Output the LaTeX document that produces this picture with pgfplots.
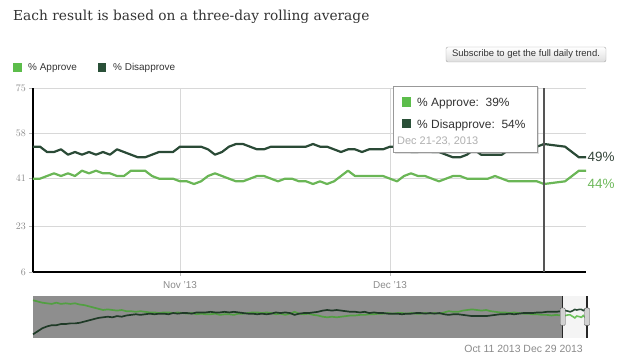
\documentclass[border=0pt]{standalone}
\usepackage{pgfplots}
\pgfplotsset{compat=1.18}
\usepackage{pgfplotstable}
\usepackage{fontspec}
\setmainfont{Liberation Sans}
\newfontfamily\titlefont{DejaVu Serif}
\usetikzlibrary{shadows}
\definecolor{titlec}{HTML}{333333}
\definecolor{txt}{HTML}{333333}
\definecolor{tickc}{HTML}{8A8A8A}
\definecolor{gridc}{HTML}{D8D8D8}
\definecolor{appr}{HTML}{6AB656}
\definecolor{apprsq}{HTML}{5CBD4B}
\definecolor{disa}{HTML}{2A4A36}
\definecolor{disasq}{HTML}{2A5038}
\definecolor{lab49}{HTML}{34453A}
\definecolor{lab44}{HTML}{6DB85A}
\definecolor{navbg}{HTML}{8E8E8E}
\definecolor{navA}{HTML}{529F42}
\definecolor{navD}{HTML}{1F3A27}
\definecolor{winbg}{HTML}{F4F4F4}
\definecolor{winA}{HTML}{6CC25A}
\definecolor{crossc}{HTML}{555555}
\definecolor{datec}{HTML}{B0B0B0}

\pgfplotstableread{
d A D
0 41 53
1 41 53
2 42 51
3 43 51
4 42 52
5 43 50
6 42 51
7 44 50
8 43 51
9 44 50
10 43 51
11 43 50
12 42 52
13 42 51
14 44 50
15 44 49
16 44 49
17 42 50
18 41 51
19 41 51
20 41 51
21 40 53
22 40 53
23 39 53
24 40 53
25 42 52
26 43 50
27 42 51
28 41 53
29 40 54
30 40 54
31 41 53
32 42 52
33 42 52
34 41 53
35 40 53
36 41 53
37 41 53
38 40 53
39 40 53
40 39 54
41 40 53
42 39 53
43 40 52
44 42 51
45 44 52
46 42 52
47 42 51
48 42 52
49 42 52
50 42 52
51 41 53
52 40 53
53 42 53
54 43 51
55 42 51
56 42 52
57 41 51
58 40 51
59 41 50
60 42 49
61 42 49
62 41 50
63 41 52
64 41 50
65 41 50
66 42 50
67 41 50
68 40 52
69 40 53
70 40 53
71 40 53
72 40 53
73 39 54
76 40 53
77 42 51
78 44 49
79 44 49
}\maindata

\pgfplotstableread{
m A D
0 68 12
0.5 66 17
1 64 22
1.5 63 25
2 62 27
2.5 64 27
3 62 29
3.5 63 29
4 62 30
4.5 63 30
5 61 31
5.5 60 33
6 58 35
6.5 56 37
7 54 39
7.5 52 40
8 53 41
8.5 52 40
9 51 42
9.5 52 41
10 50 43
10.5 50 44
11 49 45
11.5 50 44
12 49 45
12.5 48 46
13 48 45
13.5 47 46
14 48 46
14.5 48 45
15 47 47
15.5 48 46
16 47 47
16.5 46 47
17 47 46
17.5 45 48
18 46 48
18.5 45 48
19 45 49
19.5 46 48
20 44 48
20.5 45 49
21 45 48
21.5 44 49
22 46 48
22.5 46 47
23 47 46
23.5 48 46
24 48 45
24.5 47 46
25 48 45
25.5 47 46
26 45 48
26.5 46 47
27 44 48
27.5 46 47
28 49 44
28.5 46 46
29 45 47
29.5 46 47
30 44 48
30.5 43 49
31 41 51
31.5 40 52
32 41 51
32.5 40 52
33 41 51
33.5 42 50
34 43 49
34.5 43 49
35 44 48
35.5 44 49
36 45 47
36.5 45 48
37 46 47
37.5 46 47
38 47 46
38.5 46 46
39 47 46
39.5 47 45
40 46 46
40.5 47 46
41 46 47
41.5 46 47
42 47 46
42.5 46 47
43 47 46
43.5 46 47
44 48 45
44.5 50 44
45 49 45
45.5 49 45
46 51 44
46.5 52 43
47 53 42
47.5 52 42
48 51 42
48.5 52 42
49 50 43
49.5 49 44
50 48 45
50.5 48 45
51 47 46
51.5 48 45
52 47 46
52.5 46 47
53 46 47
53.5 45 47
54 45 48
54.5 44 48
55 44 49
55.5 43 49
56 44 49
56.5 43 50
56.7 41 53
}\navdata

\pgfplotstableread{
m A D
56.7 41 53
57.0 43 51
57.3 44 50
57.5 44 49
57.8 41 51
58.0 39 53
58.2 42 52
58.5 41 53
58.7 40 53
58.9 43 51
59.1 40 53
59.3 44 49
}\windata

\begin{document}
\begin{tikzpicture}
\path[use as bounding box] (0bp,0bp) rectangle (628bp,355bp);

% title
\node[anchor=base west, inner sep=0, font=\titlefont\fontsize{13.8}{17}\selectfont, text=titlec] at (13bp,334bp) {Each result is based on a three-day rolling average};

% legend
\fill[apprsq] (13bp,283bp) rectangle (21.5bp,291.5bp);
\node[anchor=base west, inner sep=0, font=\fontsize{10}{12}\selectfont, text=txt] at (28bp,284bp) {\% Approve};
\fill[disasq] (97.5bp,283bp) rectangle (106bp,291.5bp);
\node[anchor=base west, inner sep=0, font=\fontsize{10}{12}\selectfont, text=txt] at (113bp,284bp) {\% Disapprove};

% button
\shade[top color=white, bottom color=black!13, rounded corners=2bp] (446bp,293bp) rectangle (606bp,308bp);
\draw[black!35, rounded corners=2bp] (446bp,293bp) rectangle (606bp,308bp);
\node[inner sep=0, font=\fontsize{9.5}{11}\selectfont, text=txt] at (526bp,300.5bp) {Subscribe to get the full daily trend.};

% main chart
\begin{axis}[
  at={(33bp,83bp)}, anchor=south west, scale only axis,
  width=553bp, height=184bp,
  xmin=0, xmax=79, ymin=6, ymax=75,
  axis x line*=bottom, axis y line*=left,
  axis line style={-, black, line width=1.3bp},
  xtick={21,51}, xticklabels={Nov '13, Dec '13},
  ytick={6,23,41,58,75},
  grid=major, major grid style={gridc, line width=0.8bp},
  tick align=outside, major tick length=4bp,
  tick style={tickc!60, line width=0.8bp},
  ticklabel style={font=\fontsize{10}{12}\selectfont, text=tickc},
  yticklabel style={inner sep=0pt, xshift=-3bp},
  xticklabel style={inner sep=0pt, yshift=-5bp},
  clip=false,
]
\addplot[appr, line width=2.2bp, line join=round] table[x=d, y=A] {\maindata};
\addplot[disa, line width=2.2bp, line join=round] table[x=d, y=D] {\maindata};
\draw[crossc, line width=1.6bp] (axis cs:73,6) -- (axis cs:73,75);
\node[anchor=west, inner sep=1.5bp, text=lab49, font=\fontsize{13.5}{15}\selectfont] at (axis cs:79,49) {49\%};
\node[anchor=west, inner sep=1.5bp, text=lab44, font=\fontsize{13.5}{15}\selectfont] at (axis cs:79,39) {44\%};
\end{axis}

% tooltip
\draw[black!40, fill=white, drop shadow={opacity=0.25, shadow xshift=1.5bp, shadow yshift=-1.5bp}] (393.5bp,202.3bp) rectangle (537.3bp,269bp);
\fill[apprsq] (402bp,248.3bp) rectangle (411bp,257.5bp);
\node[anchor=base west, inner sep=0, font=\fontsize{12}{14}\selectfont, text=txt] at (417bp,248.3bp) {\% Approve:\ \ 39\%};
\fill[disasq] (402bp,226.7bp) rectangle (411bp,236bp);
\node[anchor=base west, inner sep=0, font=\fontsize{12}{14}\selectfont, text=txt] at (417bp,226.7bp) {\% Disapprove:\ \ 54\%};
\node[anchor=base west, inner sep=0, font=\fontsize{11}{13}\selectfont, text=datec] at (397bp,210bp) {Dec 21-23, 2013};

% navigator
\begin{axis}[
  at={(33bp,17bp)}, anchor=south west, scale only axis,
  width=554bp, height=42bp,
  xmin=0, xmax=59.3, ymin=6, ymax=75,
  axis line style={draw=none}, ticks=none,
  axis background/.style={fill=navbg},
  clip=false,
]
\fill[winbg] (axis cs:56.7,6) rectangle (axis cs:59.3,75);
\addplot[navA, line width=1.7bp] table[x=m, y=A] {\navdata};
\addplot[navD, line width=1.7bp] table[x=m, y=D] {\navdata};
\addplot[winA, line width=1.6bp] table[x=m, y=A] {\windata};
\addplot[disa, line width=1.6bp] table[x=m, y=D] {\windata};
\end{axis}
\draw[black!85, line width=1.5bp] (562.7bp,17bp) -- (562.7bp,59bp);
\draw[black!85, line width=1.5bp] (587bp,17bp) -- (587bp,59bp);
\draw[black!70, fill=black!18, rounded corners=1bp] (560.2bp,29.5bp) rectangle (565.2bp,47bp);
\draw[black!70, fill=black!18, rounded corners=1bp] (584.5bp,29.5bp) rectangle (589.5bp,47bp);
\node[anchor=base east, inner sep=0, font=\fontsize{10.5}{12}\selectfont, text=tickc] at (583bp,2.5bp) {Oct 11 2013 Dec 29 2013};
\end{tikzpicture}
\end{document}
